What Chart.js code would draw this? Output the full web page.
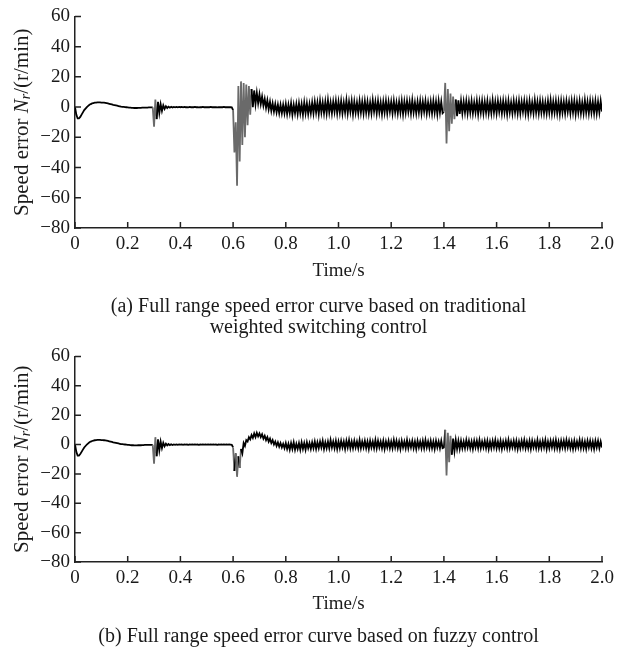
<!DOCTYPE html>
<html>
<head>
<meta charset="utf-8">
<script src="https://cdn.jsdelivr.net/npm/chart.js@4.4.0/dist/chart.umd.min.js"></script>
<style>
  html, body { margin: 0; padding: 0; background: #fff; }
  #wrap { position: relative; width: 630px; height: 652px; }
  canvas { position: absolute; left: 0; }
</style>
</head>
<body>
<div id="wrap">
  <canvas id="chartA" width="630" height="340" style="top:0"></canvas>
  <canvas id="chartB" width="630" height="312" style="top:340px"></canvas>
</div>
<script>
// sample spacing of the read-off values (s)
const STEP = 0.005;

// axes
const xMin = 0, xMax = 2, xStep = 0.2;
const yMin = -80, yMax = 60, yStep = 20;

// start-up response, same in both plots (t = 0 ... 0.2)
const startResponse = [
  0, -5, -7.5, -7.5, -6.5, -5, -3.5, -2, -1, 0,
  0.8, 1.5, 2, 2.4, 2.7, 2.9, 3, 3.1, 3.1, 3.1,
  3, 3, 2.9, 2.8, 2.6, 2.4, 2.2, 2, 1.8, 1.5,
  1.3, 1.1, 0.9, 0.7, 0.5, 0.3, 0.2, 0.1, 0, -0.1,
  -0.2
];
// t = 0.205 ... 0.295
const settle = [
  -0.3, -0.4, -0.5, -0.5, -0.6, -0.6, -0.6, -0.5, -0.5, -0.5,
  -0.4, -0.4, -0.3, -0.3, -0.3, -0.2, -0.2, -0.2, -0.2
];
// first load step, t = 0.3 ... 0.395
const loadStep1 = [
  -13, 5, -8, 3.5, -4, 2, -2.5, 1.2, -1.2, 0.6,
  -0.6, 0.3, -0.4, 0.2, -0.3, 0.1, -0.2, 0.1, -0.2, 0.1
];
// t = 0.4 ... 0.595
const flatRun = [
  -0.1, 0.1, -0.2, 0.1, -0.1, 0, -0.2, 0.1, -0.1, 0,
  -0.1, 0.1, -0.1, 0, -0.2, 0, -0.1, 0.1, -0.1, 0,
  -0.1, 0, -0.1, 0.1, -0.1, 0, -0.1, 0, -0.2, 0,
  -0.1, 0, -0.1, 0.1, -0.1, 0, -0.1, 0, -0.1, -0.2
];

// (a) traditional weighted switching control
// t = 0.6 ... 0.795
const tradStep2 = [
  -2, -30, -10, -52, 14, -36, 17, -25, 16, -20,
  15, -12, 14, -5, 12, 0, 11, 2, 9.5, 2.5,
  8.5, 2, 7, 1, 5.5, -0.5, 4.5, -1.5, 3.5, -2.5,
  2.5, -3, 2, -3.5, 1.5, -4, 1.5, -4, 1.5, -4
];
// t = 0.8 ... 1.395
const tradNoise1 = [
  2, -4.5, 1.5, -4, 2.5, -5, 1.5, -4, 2, -4.5, 2.5, -4, 2, -5, 3, -4, 2.5, -4.5, 2, -4,
  3, -4, 3.5, -3.5, 3, -4.5, 4, -3.5, 3, -4, 3.5, -4, 4.5, -3.5, 3, -4, 3.5, -3, 4, -4,
  3.5, -3.5, 4, -4, 3, -3.5, 4.5, -4, 3.5, -3, 4, -4.5, 3.5, -3.5, 3, -4, 4, -3.5, 3.5, -4,
  4, -3.5, 3.5, -4, 3, -4, 4.5, -3, 3.5, -4, 4, -3.5, 3, -4.5, 3.5, -3.5, 4, -4, 3.5, -3,
  3.5, -4, 4, -3.5, 3, -4, 3.5, -3.5, 4, -4.5, 3.5, -3.5, 4, -3, 3.5, -4, 4.5, -3.5, 3, -4,
  3.5, -3.5, 4, -4, 3.5, -3, 4, -4, 3, -3.5, 3.5, -4, 4, -3.5, 3.5, -4.5, 4, -3.5, 3.5, -4
];
// t = 1.4 ... 1.455
const tradStep3 = [-3, 16, -24, 12, -16, 9, -11, 7, -8, 5, -6, 4.5];
// t = 1.46 ... 2.0
const tradNoise2 = [
  -4.5, 4, -4, 3.5, -3.5, 4, -4, 3.5, -3.5, 4, -4, 3, -3.5, 4, -4.5, 3.5, -3.5, 4, -4, 3.5,
  -3.5, 4, -4, 3, -4, 4.5, -3.5, 3.5, -4, 4, -3, 3.5, -4, 4, -3.5, 3.5, -4.5, 4, -3.5, 3,
  -4, 4, -3.5, 3.5, -4, 4, -4, 3.5, -3, 4, -4, 3.5, -4.5, 4, -3.5, 3, -4, 4.5, -3.5, 3.5,
  -4, 4, -3.5, 3.5, -4, 3, -4, 4, -3.5, 4.5, -4, 3.5, -3.5, 4, -4, 3.5, -4.5, 4, -3.5, 3.5,
  -4, 4, -3, 3.5, -4, 4, -3.5, 4, -4.5, 3.5, -3.5, 4, -4, 3, -4, 4.5, -3.5, 3.5, -4, 4,
  -3.5, 3.5, -4, 4, -4, 3.5, -3.5, 4, -3
];

// (b) fuzzy control
const fuzzyStep2 = [
  -2, -18, -6, -22, -8, -16, -3, -6, 1, -1,
  3, 2, 5, 3.5, 6.5, 4.5, 7.5, 5, 8, 5.5,
  7.5, 5, 7, 4, 6, 3, 5, 2, 4, 1,
  3, 0, 2, -1, 1.5, -1.5, 1, -2, 0.5, -2.5
];
const fuzzyNoise1 = [
  1, -3, 0.5, -3.5, 1, -3, 1.5, -3.5, 0.5, -3, 1, -3.5, 1.5, -3, 1, -3.5, 1.5, -2.5, 1, -3,
  1.5, -2.5, 2, -3, 1.5, -2.5, 2, -2, 2.5, -3, 1.5, -2.5, 2, -2.5, 3, -2, 2, -2.5, 2.5, -3,
  2, -2.5, 2.5, -2, 2, -3, 2.5, -2, 3, -2.5, 2, -2.5, 2.5, -2, 2, -2.5, 3, -2.5, 2, -2,
  2.5, -2.5, 2, -3, 2.5, -2, 2, -2.5, 3, -2.5, 2.5, -2, 2, -2.5, 2.5, -3, 2, -2, 2.5, -2.5,
  2, -2.5, 3, -2, 2.5, -2.5, 2, -3, 2.5, -2, 2, -2.5, 3, -2.5, 2, -2, 2.5, -2.5, 2, -3,
  2.5, -2, 2, -2.5, 2.5, -2.5, 3, -2, 2, -2.5, 2.5, -2.5, 2, -3, 2.5, -2, 2, -2.5, 2.5, -2.5
];
const fuzzyStep3 = [-2, 10, -21, 8, -12, 6, -7, 4, -4.5, 3, -3, 2.5];
const fuzzyNoise2 = [
  -3, 2.5, -2.5, 2, -2.5, 3, -2, 2.5, -2.5, 2, -3, 2.5, -2, 2.5, -2.5, 3, -2.5, 2, -2, 2.5,
  -2.5, 2.5, -3, 2, -2.5, 2.5, -2, 3, -2.5, 2, -2.5, 2.5, -3, 2, -2, 2.5, -2.5, 3, -2.5, 2,
  -2, 2.5, -2.5, 2.5, -3, 2, -2.5, 2.5, -2, 3, -2.5, 2, -2.5, 2.5, -3, 2.5, -2, 2, -2.5, 3,
  -2.5, 2, -2.5, 2.5, -2, 3, -3, 2, -2.5, 2.5, -2, 2.5, -2.5, 3, -2.5, 2, -3, 2.5, -2, 2.5,
  -2.5, 3, -2, 2.5, -2.5, 2, -3, 2.5, -2.5, 2, -2, 3, -2.5, 2.5, -2.5, 2, -3, 2.5, -2, 2.5,
  -2.5, 2, -3, 2.5, -2, 2.5, -2.5, 2, -2
];

const captionA = ['(a) Full range speed error curve based on traditional', 'weighted switching control'];
const captionB = ['(b) Full range speed error curve based on fuzzy control'];

const FONT = '"Liberation Serif", "Times New Roman", serif';
const INK = '#1a1a1a';

function buildSeries(segments) {
  const pts = [];
  segments.forEach(([t0, vals]) => {
    vals.forEach((v, i) => pts.push({ x: +(t0 + i * STEP).toFixed(3), y: v }));
  });
  return pts;
}

// short tick marks pointing into the plot
const inwardTicks = {
  id: 'inwardTicks',
  afterDraw(chart) {
    const { ctx, chartArea, scales: { x, y } } = chart;
    ctx.save();
    ctx.strokeStyle = '#222';
    ctx.lineWidth = 1.5;
    ctx.beginPath();
    x.ticks.forEach((t, i) => {
      const px = x.getPixelForTick(i);
      ctx.moveTo(px, chartArea.bottom);
      ctx.lineTo(px, chartArea.bottom - 6);
    });
    y.ticks.forEach((t, i) => {
      const py = y.getPixelForTick(i);
      ctx.moveTo(chartArea.left, py);
      ctx.lineTo(chartArea.left + 6, py);
    });
    ctx.stroke();
    ctx.restore();
  }
};

// y title with italic N and subscript r
const yTitle = {
  id: 'yTitle',
  afterDraw(chart) {
    const { ctx, chartArea } = chart;
    const parts = [
      ['Speed error ', 'normal 21px ' + FONT, 0],
      ['N', 'italic 21px ' + FONT, 0],
      ['r', 'italic 14px ' + FONT, 4],
      ['/(r/min)', 'normal 21px ' + FONT, 0]
    ];
    ctx.save();
    let total = 0;
    parts.forEach(p => { ctx.font = p[1]; total += ctx.measureText(p[0]).width; });
    ctx.translate(22, (chartArea.top + chartArea.bottom) / 2);
    ctx.rotate(-Math.PI / 2);
    ctx.fillStyle = INK;
    ctx.textBaseline = 'middle';
    ctx.textAlign = 'left';
    let cx = -total / 2;
    parts.forEach(p => {
      ctx.font = p[1];
      ctx.fillText(p[0], cx, p[2]);
      cx += ctx.measureText(p[0]).width;
    });
    ctx.restore();
  }
};

function makeChart(id, points, caption, lay) {
  new Chart(document.getElementById(id), {
    type: 'line',
    data: {
      datasets: [{
        data: points,
        borderColor: '#000',
        borderWidth: 1.8,
        pointRadius: 0,
        tension: 0,
        segment: {
          borderColor: c => Math.abs(c.p1.parsed.y - c.p0.parsed.y) > 12 ? '#6a6a6a' : '#000'
        }
      }]
    },
    options: {
      responsive: false,
      animation: false,
      events: [],
      layout: { padding: { left: 35, right: 28, top: lay.top, bottom: 0 } },
      plugins: {
        legend: { display: false },
        tooltip: { enabled: false },
        title: {
          display: true,
          position: 'bottom',
          text: caption,
          color: INK,
          font: { family: FONT, size: 20, weight: 'normal', lineHeight: 1.05 },
          padding: { top: lay.capTop, bottom: lay.capBottom }
        }
      },
      scales: {
        x: {
          type: 'linear',
          min: xMin,
          max: xMax,
          afterFit: s => { s.height = lay.xHeight; },
          ticks: {
            stepSize: xStep,
            autoSkip: false,
            maxRotation: 0,
            padding: 5,
            color: INK,
            font: { family: FONT, size: 19 },
            callback: v => (Math.abs(v) < 1e-9 ? '0' : v.toFixed(1))
          },
          grid: { drawOnChartArea: false, drawTicks: false },
          border: { color: '#222', width: 1.5 },
          title: {
            display: true,
            text: 'Time/s',
            color: INK,
            font: { family: FONT, size: 19, lineHeight: 1.2 },
            padding: 0
          }
        },
        y: {
          min: yMin,
          max: yMax,
          afterFit: s => { s.width = 40; },
          ticks: {
            stepSize: yStep,
            padding: 5,
            color: INK,
            font: { family: FONT, size: 19 },
            callback: v => (v < 0 ? '\u2212' + Math.abs(v) : String(v))
          },
          grid: { drawOnChartArea: false, drawTicks: false },
          border: { color: '#222', width: 1.5 }
        }
      }
    },
    plugins: [inwardTicks, yTitle]
  });
}

const tradPoints = buildSeries([
  [0, startResponse], [0.205, settle], [0.3, loadStep1], [0.4, flatRun],
  [0.6, tradStep2], [0.8, tradNoise1], [1.4, tradStep3], [1.46, tradNoise2]
]);
const fuzzyPoints = buildSeries([
  [0, startResponse], [0.205, settle], [0.3, loadStep1], [0.4, flatRun],
  [0.6, fuzzyStep2], [0.8, fuzzyNoise1], [1.4, fuzzyStep3], [1.46, fuzzyNoise2]
]);

makeChart('chartA', tradPoints, captionA, { top: 14, xHeight: 54.4, capTop: 14.1, capBottom: 1.5 });
makeChart('chartB', fuzzyPoints, captionB, { top: 13, xHeight: 53.4, capTop: 11.1, capBottom: 4.5 });
</script>
</body>
</html>
